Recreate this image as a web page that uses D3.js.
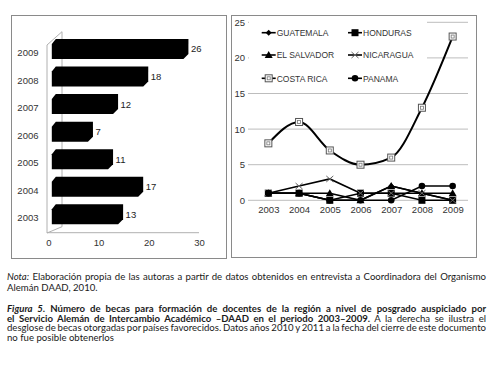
<!DOCTYPE html>
<html><head><meta charset="utf-8">
<script src="https://cdn.jsdelivr.net/npm/d3@7"></script>
<style>body{margin:0;background:#fff}svg{display:block}</style>
</head>
<body><svg id="c" width="493" height="371"></svg>
<script>
// ---- data ----
const years = ["2003","2004","2005","2006","2007","2008","2009"];
const totals = [13,17,11,7,12,18,26];
const barTicks = [0,10,20,30];
const lineTicks = [0,5,10,15,20,25];
const seriesNames = ["GUATEMALA","HONDURAS","EL SALVADOR","NICARAGUA","COSTA RICA","PANAMA"];
const guatemala = [1,1,0,0,2,1,0];
const honduras  = [1,1,0,1,1,0,0];
const elSalvador= [1,1,1,0,2,1,1];
const nicaragua = [1,2,3,1,1,1,0];
const costaRica = [8,11,7,5,6,13,23];
const panama    = [1,1,0,0,0,2,2];
const markerTypes = ["diamond","square","triangle","x","boxed","circle"];

const svg = d3.select("#c");
const FONT = "'Liberation Sans', Arial, sans-serif";

// frames
svg.append("rect").attr("x",11.5).attr("y",15.5).attr("width",215).attr("height",243)
  .attr("fill","none").attr("stroke","#8a8a8a");
svg.append("rect").attr("x",231.5).attr("y",15.5).attr("width",245).attr("height",242)
  .attr("fill","none").attr("stroke","#8a8a8a");

// ---- left: 3D bar chart ----
const xA = d3.scaleLinear().domain([0,30]).range([48.3,199]);
const yB = d3.scaleBand().domain(years.slice().reverse()).range([35.2,228.1])
  .paddingInner(0.274).paddingOuter(0.137);
const L = svg.append("g");
const wallX = xA(0)-1.3, backX = wallX+15;
const wc = "#b0b0b0";
L.append("line").attr("x1",wallX).attr("y1",45).attr("x2",wallX).attr("y2",233).attr("stroke",wc);
L.append("line").attr("x1",wallX).attr("y1",45).attr("x2",backX).attr("y2",31.7).attr("stroke",wc);
L.append("line").attr("x1",backX).attr("y1",31.7).attr("x2",backX).attr("y2",226.7).attr("stroke",wc);
L.append("line").attr("x1",wallX).attr("y1",233).attr("x2",backX).attr("y2",226.7).attr("stroke",wc);
L.append("line").attr("x1",wallX).attr("y1",232.7).attr("x2",xA(30)).attr("y2",232.7).attr("stroke",wc);

const dx = 5, dy = 5;
years.forEach((yr,i)=>{
  const v = totals[i];
  const t = yB(yr), b = t + yB.bandwidth();
  const x0 = xA(0)+3.5, xv = xA(v)+4.5;
  const pts = [[x0,b],[x0,t+dy],[x0+4,t],[xv+dx,t],[xv+dx,b-dy],[xv,b]];
  L.append("path").attr("d","M"+pts.map(p=>p.join(",")).join("L")+"Z").attr("fill","#000");
  L.append("text").attr("x",xv+dx+2.5).attr("y",t+13.5).text(v)
    .attr("font-family",FONT).attr("font-size",9.5).attr("fill","#222");
  L.append("text").attr("x",38.5).attr("y",t+17).attr("text-anchor","end").text(yr)
    .attr("font-family",FONT).attr("font-size",9.5).attr("fill","#333");
});
const axB = L.append("g").attr("transform","translate(0,232.7)")
  .call(d3.axisBottom(xA).tickValues(barTicks).tickSize(0).tickPadding(7));
axB.select(".domain").remove();
axB.selectAll("text").attr("font-family",FONT).attr("font-size",9.5).attr("fill","#333");

// ---- right: line chart ----
const xL = d3.scalePoint().domain(years).range([253,468]).padding(0.5);
const yL = d3.scaleLinear().domain([0,25]).range([200.3,22.3]);
const R = svg.append("g");
R.selectAll("line.grid").data(lineTicks).enter().append("line")
  .attr("x1",248).attr("x2",468).attr("y1",d=>yL(d)).attr("y2",d=>yL(d))
  .attr("stroke","#bdbdbd").attr("stroke-width",1);
const axY = R.append("g").attr("transform","translate(248,0)")
  .call(d3.axisLeft(yL).tickValues(lineTicks).tickSize(0).tickPadding(3));
axY.select(".domain").remove();
axY.selectAll("text").attr("font-family",FONT).attr("font-size",9.5).attr("fill","#333");
const axX = R.append("g").attr("transform","translate(0,"+yL(0)+")")
  .call(d3.axisBottom(xL).tickSize(0).tickPadding(6));
axX.select(".domain").remove();
axX.selectAll("text").attr("font-family",FONT).attr("font-size",9.5).attr("fill","#333");

// legend background
R.append("rect").attr("x",249).attr("y",18).attr("width",178).attr("height",72).attr("fill","#fff");

function marker(g,type,cx,cy){
  if(type==="diamond"){
    g.append("path").attr("d",`M${cx},${cy-3}L${cx+3},${cy}L${cx},${cy+3}L${cx-3},${cy}Z`).attr("fill","#000");
  } else if(type==="square"){
    g.append("rect").attr("x",cx-3.5).attr("y",cy-3.5).attr("width",7).attr("height",7).attr("fill","#000");
  } else if(type==="triangle"){
    g.append("path").attr("d",`M${cx},${cy-4}L${cx+4},${cy+3}L${cx-4},${cy+3}Z`).attr("fill","#000");
  } else if(type==="x"){
    g.append("path").attr("d",`M${cx-3.5},${cy-3}L${cx+3.5},${cy+3}M${cx-3.5},${cy+3}L${cx+3.5},${cy-3}`)
      .attr("stroke","#666").attr("stroke-width",1).attr("fill","none");
  } else if(type==="boxed"){
    g.append("rect").attr("x",cx-3.5).attr("y",cy-3.5).attr("width",7).attr("height",7)
      .attr("fill","#fff").attr("stroke","#555").attr("stroke-width",1);
    g.append("rect").attr("x",cx-1.5).attr("y",cy-1.5).attr("width",3).attr("height",3)
      .attr("fill","none").attr("stroke","#777").attr("stroke-width",0.8);
  } else if(type==="circle"){
    g.append("circle").attr("cx",cx).attr("cy",cy).attr("r",3.3).attr("fill","#000");
  }
}

const allSeries = [guatemala,honduras,elSalvador,nicaragua,costaRica,panama];
allSeries.forEach((vals,si)=>{
  const isCR = si===4;
  const line = d3.line().x((d,i)=>xL(years[i])).y(d=>yL(d))
    .curve(isCR ? d3.curveMonotoneX : d3.curveLinear);
  R.append("path").datum(vals).attr("d",line).attr("fill","none")
    .attr("stroke","#000").attr("stroke-width",isCR?2:1.6);
});
allSeries.forEach((vals,si)=>{
  const g = R.append("g");
  vals.forEach((v,i)=>marker(g,markerTypes[si],xL(years[i]),yL(v)));
});

// legend
const legRows = [32.7,55,78.3], legCols = [261.7,348];
seriesNames.forEach((name,i)=>{
  const cx = legCols[i%2], cy = legRows[Math.floor(i/2)];
  const g = R.append("g");
  g.append("line").attr("x1",cx).attr("x2",cx+14).attr("y1",cy).attr("y2",cy)
    .attr("stroke","#000").attr("stroke-width",1.6);
  marker(g,markerTypes[i],cx+7,cy);
  g.append("text").attr("x",cx+15).attr("y",cy+3.2).text(name)
    .attr("font-family",FONT).attr("font-size",8.5).attr("fill","#333");
});

// ---- caption ----
const CF = "Lato, 'Open Sans', sans-serif";
const lines = [
  {y:279.8, just:true, parts:[["Nota:","italic","normal"],[" Elaboración propia de las autoras a partir de datos obtenidos en entrevista a Coordinadora del Organismo","normal","normal"]]},
  {y:290.8, just:false, parts:[["Alemán DAAD, 2010.","normal","normal"]]},
  {y:312, just:true, parts:[["Figura 5.","italic","bold"],[" Número de becas para formación de docentes de la región a nivel de posgrado auspiciado por","normal","bold"]]},
  {y:321.6, just:true, parts:[["el Servicio Alemán de Intercambio Académico –DAAD en el periodo 2003–2009.","normal","bold"],[" A la derecha se ilustra el","normal","normal"]]},
  {y:331.2, just:true, parts:[["desglose de becas otorgadas por países favorecidos. Datos años 2010 y 2011 a la fecha del cierre de este documento","normal","normal"]]},
  {y:340.8, just:false, parts:[["no fue posible obtenerlos","normal","normal"]]}
];
const capX = 7, capW = 479;
lines.forEach(ln=>{
  const t = svg.append("text").attr("x",capX).attr("y",ln.y)
    .attr("font-family",CF).attr("font-size",9.6).attr("fill","#1a1a1a")
    .style("white-space","pre");
  ln.parts.forEach(p=>{
    t.append("tspan").text(p[0]).attr("font-style",p[1]).attr("font-weight",p[2]);
  });
  if(ln.just){
    const w = t.node().getComputedTextLength();
    const txt = ln.parts.map(p=>p[0]).join("");
    const spaces = (txt.match(/ /g)||[]).length;
    const ws = (capW - w)/spaces;
    t.style("word-spacing", ws+"px");
  }
});
</script>
</body></html>
